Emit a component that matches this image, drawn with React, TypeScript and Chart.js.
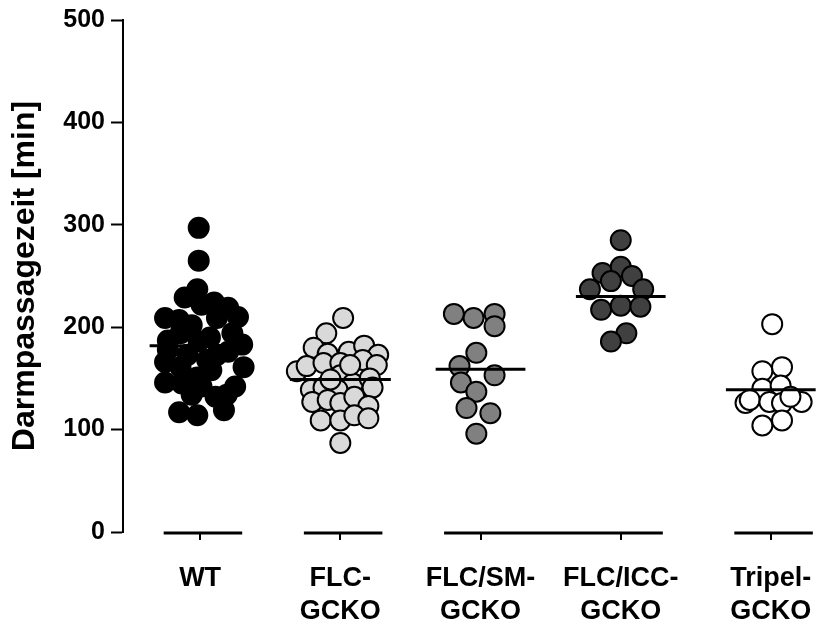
import React, { useEffect, useRef } from 'react';
import { Chart, registerables } from 'chart.js';

Chart.register(...registerables);

// ---- data ----
const categories: string[][] = [['WT'], ['FLC-', 'GCKO'], ['FLC/SM-', 'GCKO'], ['FLC/ICC-', 'GCKO'], ['Tripel-', 'GCKO']];
// column positions on the x axis (Prism leaves a slightly wider gap before the last column)
const categoryX = [1, 2, 3, 4, 5.07];

const wtValues = [297, 265, 237, 229, 224, 219, 210, 209, 207, 202, 194, 194, 190, 186, 176, 166, 161, 161, 158, 151, 146, 145, 142, 142, 134, 132, 117, 114, 119, 187, 209, 222, 173, 173, 134, 178, 183, 168];
const wtJitter = [-0.01, -0.01, -0.02, -0.11, 0.10, 0.20, 0.27, -0.25, -0.15, -0.06, -0.14, 0.23, 0.07, -0.01, 0.20, -0.25, -0.14, 0.31, 0.08, -0.02, -0.25, -0.13, 0.25, 0.01, -0.06, 0.11, -0.15, -0.02, 0.17, -0.23, 0.12, 0.01, -0.09, 0.12, 0.19, -0.23, 0.30, 0.05];

const flcValues = [209, 194, 180, 174, 176, 182, 173, 157, 162, 165, 165, 168, 163, 153, 145, 150, 141, 139, 141, 139, 127, 129, 126, 132, 123, 109, 109, 114, 111, 87, 163, 149];
const flcJitter = [0.02, -0.10, -0.19, -0.09, 0.06, 0.17, 0.27, -0.31, -0.24, -0.12, 0.0, 0.16, 0.26, 0.0, 0.09, 0.21, 0.23, -0.21, -0.12, -0.02, -0.20, -0.09, 0.0, 0.10, 0.20, -0.14, 0.0, 0.10, 0.20, 0.0, 0.07, -0.07];

const smValues = [213, 209, 213, 201, 175, 162, 153, 146, 137, 121, 116, 96];
const smJitter = [-0.19, -0.05, 0.10, 0.10, -0.03, -0.15, 0.10, -0.14, -0.03, -0.10, 0.07, -0.03];

const iccValues = [285, 253, 259, 250, 245, 237, 237, 217, 221, 220, 194, 186];
const iccJitter = [0.0, -0.13, 0.0, 0.08, -0.07, -0.22, 0.16, -0.14, 0.0, 0.14, 0.04, -0.07];

const tripelValues = [203, 157, 161, 140, 143, 126, 129, 127, 126, 127, 132, 104, 109];
const tripelJitter = [0.01, -0.06, 0.08, -0.06, 0.07, -0.18, -0.15, -0.01, 0.08, 0.22, 0.14, -0.06, 0.08];

const means = [182, 149, 159, 230, 139];
const meanHalfWidth = [0.36, 0.36, 0.32, 0.32, 0.32];
const yTicks = [0, 100, 200, 300, 400, 500];
const axisGroups = [[0, 0], [1, 1], [2, 3], [4, 4]];

const groupValues = [wtValues, flcValues, smValues, iccValues, tripelValues];
const groupJitter = [wtJitter, flcJitter, smJitter, iccJitter, tripelJitter];
const groupColors = ['#000000', '#d9d9d9', '#808080', '#404040', '#ffffff'];

const FONT = "'Liberation Sans', Arial, Helvetica, sans-serif";

const groupAxisPlugin = {
  id: 'groupAxis',
  afterDraw(chart: any) {
    const { ctx } = chart;
    const x = chart.scales.x;
    const y = chart.scales.y;
    const yPix = y.getPixelForValue(0) + 1;
    ctx.save();
    ctx.strokeStyle = '#000';
    ctx.lineWidth = 3;
    axisGroups.forEach(([a, b]) => {
      ctx.beginPath();
      ctx.moveTo(x.getPixelForValue(categoryX[a] - 0.26), yPix);
      ctx.lineTo(x.getPixelForValue(categoryX[b] + 0.3), yPix);
      ctx.stroke();
    });
    ctx.lineWidth = 2;
    categoryX.forEach((cx) => {
      const px = Math.round(x.getPixelForValue(cx));
      ctx.beginPath();
      ctx.moveTo(px, yPix);
      ctx.lineTo(px, yPix + 7);
      ctx.stroke();
    });
    ctx.restore();
  },
};

export default function App() {
  const ref = useRef<HTMLCanvasElement | null>(null);
  useEffect(() => {
    if (!ref.current) return;
    const scatterSets = groupValues.map((vals, g) => ({
      type: 'scatter' as const,
      data: vals.map((v, k) => ({ x: categoryX[g] + groupJitter[g][k], y: v })),
      backgroundColor: groupColors[g],
      borderColor: '#000',
      borderWidth: 2,
      pointRadius: 10,
      pointHoverRadius: 10,
      order: 2,
      clip: false as any,
    }));
    const meanSets = means.map((m, g) => ({
      type: 'line' as const,
      data: [
        { x: categoryX[g] - meanHalfWidth[g], y: m },
        { x: categoryX[g] + meanHalfWidth[g], y: m },
      ],
      borderColor: '#000',
      borderWidth: 3,
      pointRadius: 0,
      order: 1,
      clip: false as any,
    }));
    const chart = new Chart(ref.current, {
      type: 'scatter',
      data: { datasets: [...scatterSets, ...meanSets] as any },
      options: {
        animation: false,
        responsive: false,
        layout: { padding: { top: 20, right: 5, left: 0, bottom: 0 } },
        plugins: { legend: { display: false }, tooltip: { enabled: false } },
        scales: {
          x: {
            type: 'linear',
            min: 0.45,
            max: 5.314,
            afterBuildTicks: (s: any) => {
              s.ticks = categoryX.map((v) => ({ value: v }));
            },
            afterFit: (s: any) => {
              s.height = 93;
              s.paddingLeft = 0;
              s.paddingRight = 0;
            },
            grid: { display: false, drawTicks: false },
            border: { display: false },
            ticks: {
              autoSkip: false,
              maxRotation: 0,
              minRotation: 0,
              padding: 30,
              color: '#000',
              font: { family: FONT, size: 27, weight: 'bold', lineHeight: 1.22 },
              callback: (v: any) => {
                const idx = categoryX.findIndex((c) => Math.abs(c - Number(v)) < 1e-6);
                return idx >= 0 ? categories[idx] : '';
              },
            },
          },
          y: {
            min: 0,
            max: 500,
            afterBuildTicks: (s: any) => {
              s.ticks = yTicks.map((v) => ({ value: v }));
            },
            afterFit: (s: any) => {
              s.width = 123;
              s.paddingTop = 0;
              s.paddingBottom = 0;
            },
            grid: { display: true, drawOnChartArea: false, drawTicks: true, tickLength: 12, tickWidth: 2, tickColor: '#000' },
            border: { display: true, color: '#000', width: 2 },
            ticks: {
              padding: 6,
              color: '#000',
              font: { family: FONT, size: 25, weight: 'bold' },
            },
            title: {
              display: true,
              text: 'Darmpassagezeit [min]',
              color: '#000',
              font: { family: FONT, size: 32, weight: 'bold', lineHeight: 1.0 },
              padding: { top: 9, bottom: 0 },
            },
          },
        },
      },
      plugins: [groupAxisPlugin],
    });
    return () => chart.destroy();
  }, []);
  return (
    <div style={{ position: 'absolute', left: 0, top: 0, width: 817, height: 625, background: '#fff' }}>
      <canvas ref={ref} width={817} height={625} style={{ display: 'block' }} />
    </div>
  );
}
